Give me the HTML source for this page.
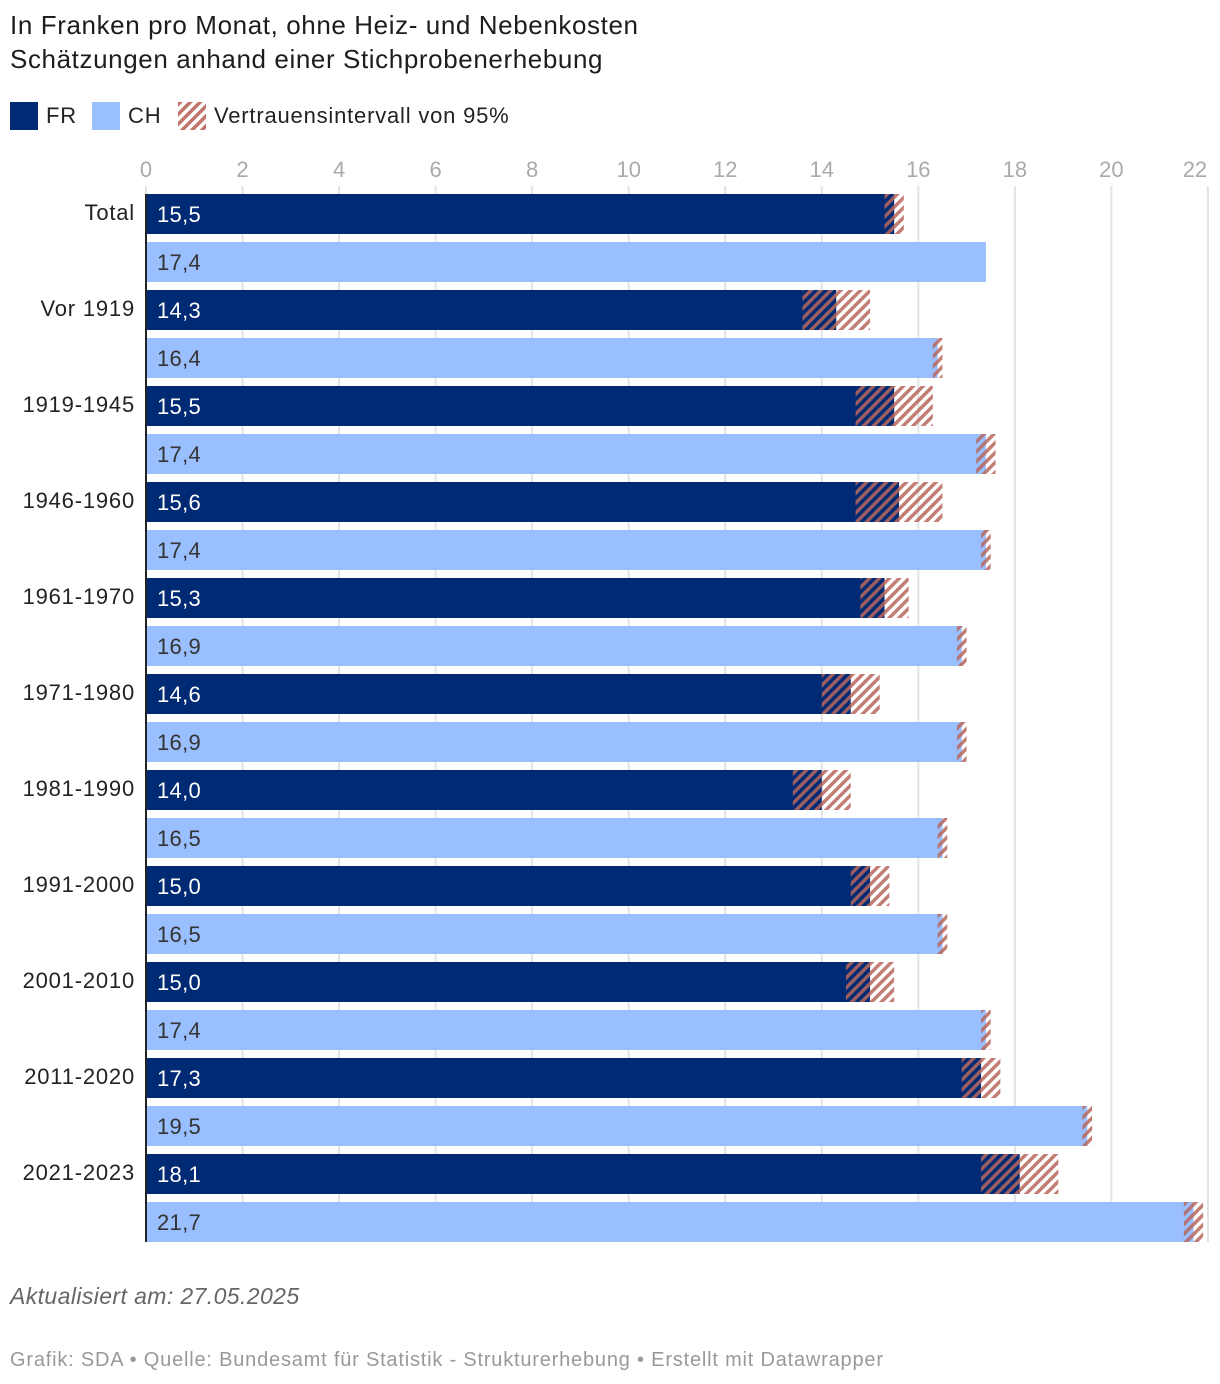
<!DOCTYPE html>
<html><head><meta charset="utf-8">
<style>
body{margin:0;background:#fff;font-family:"Liberation Sans",sans-serif;}
.wrap{position:relative;width:1220px;height:1384px;overflow:hidden;}
.t{position:absolute;left:10px;font-size:26px;color:#1d1d1d;white-space:nowrap;letter-spacing:0.6px}
.leg{position:absolute;top:102px;height:28px;display:flex;align-items:center;font-size:22px;letter-spacing:0.8px;color:#222}
.sw{width:28px;height:28px;margin-right:8px}
</style></head><body>
<div class="wrap">
<div class="t" style="top:10px">In Franken pro Monat, ohne Heiz- und Nebenkosten</div>
<div class="t" style="top:44px">Schätzungen anhand einer Stichprobenerhebung</div>
<div class="leg" style="left:10px"><div class="sw" style="background:#002a74"></div>FR</div>
<div class="leg" style="left:92px"><div class="sw" style="background:#99bfff"></div>CH</div>
<div class="leg" style="left:178px"><svg class="sw" width="28" height="28"><rect width="28" height="28" fill="url(#hatchL)"/></svg>Vertrauensintervall von 95%</div>
<svg id="c" width="1220" height="1384" style="position:absolute;left:0;top:0">
<defs>
<pattern id="hatchL" patternUnits="userSpaceOnUse" width="7" height="7" patternTransform="rotate(45)"><rect width="3.5" height="7" fill="#c0746a"/></pattern>
<pattern id="hatch" patternUnits="userSpaceOnUse" width="7" height="7" patternTransform="rotate(45)"><rect width="3.5" height="7" fill="#b8675d" fill-opacity="0.85"/></pattern>
</defs>
</svg>
<div class="t" style="top:1283px;font-style:italic;font-size:23px;letter-spacing:0.4px;color:#666">Aktualisiert am: 27.05.2025</div>
<div class="t" style="top:1349px;font-size:20px;letter-spacing:0.8px;color:#999">Grafik: SDA • Quelle: Bundesamt für Statistik - Strukturerhebung • Erstellt mit Datawrapper</div>
</div>
<script>
const categories=["Total","Vor 1919","1919-1945","1946-1960","1961-1970","1971-1980","1981-1990","1991-2000","2001-2010","2011-2020","2021-2023"];
const frValues=[15.5,14.3,15.5,15.6,15.3,14.6,14.0,15.0,15.0,17.3,18.1];
const frLow=[15.3,13.6,14.7,14.7,14.8,14.0,13.4,14.6,14.5,16.9,17.3];
const frHigh=[15.7,15.0,16.3,16.5,15.8,15.2,14.6,15.4,15.5,17.7,18.9];
const chValues=[17.4,16.4,17.4,17.4,16.9,16.9,16.5,16.5,17.4,19.5,21.7];
const chLow=[17.4,16.3,17.2,17.3,16.8,16.8,16.4,16.4,17.3,19.4,21.5];
const chHigh=[17.4,16.5,17.6,17.5,17.0,17.0,16.6,16.6,17.5,19.6,21.9];
const ticks=[0,2,4,6,8,10,12,14,16,18,20,22];
const X0=146,PX=48.27,TOP=194,ROW=96,BH=40;
const x=v=>X0+v*PX;
const svg=document.getElementById('c');
const NS='http://www.w3.org/2000/svg';
function mk(t,a){const e=document.createElementNS(NS,t);for(const k in a)e.setAttribute(k,a[k]);svg.appendChild(e);return e;}
ticks.forEach(t=>{
  const g=mk('line',{x1:x(t),x2:x(t),y1:186,y2:1242,stroke:'#e3e3e3','stroke-width':2});
  
  
  const l=mk('text',{x:t===22?x(t)-13:x(t),y:177,'text-anchor':'middle','font-size':22,fill:'#aaa','font-family':'Liberation Sans, sans-serif'});
  l.textContent=t;
  
  
});
const fmt=v=>v.toFixed(1).replace('.',',');
const F='font-family';
categories.forEach((c,i)=>{
  const y1=TOP+i*ROW,y2=y1+48;
  const lab=mk('text',{x:135,y:y1+26,'text-anchor':'end','font-size':22,'letter-spacing':0.8,fill:'#222',[F]:'Liberation Sans, sans-serif'});
  lab.textContent=c;
  
  
  const b1=mk('rect',{x:X0,y:y1,width:x(frValues[i])-X0,height:BH,fill:'#002a74'});
  
  
  const c1=mk('rect',{x:x(frLow[i]),y:y1,width:(frHigh[i]-frLow[i])*PX,height:BH,fill:'url(#hatch)'});
  
  
  const t1=mk('text',{x:157,y:y1+28,'font-size':22,'letter-spacing':0.3,fill:'#fff',[F]:'Liberation Sans, sans-serif'});
  t1.textContent=fmt(frValues[i]);
  
  
  const b2=mk('rect',{x:X0,y:y2,width:x(chValues[i])-X0,height:BH,fill:'#99bfff'});
  
  
  if(chHigh[i]>chLow[i]){
    const c2=mk('rect',{x:x(chLow[i]),y:y2,width:(chHigh[i]-chLow[i])*PX,height:BH,fill:'url(#hatch)'});
    
    
  }
  const t2=mk('text',{x:157,y:y2+28,'font-size':22,'letter-spacing':0.3,fill:'#333',[F]:'Liberation Sans, sans-serif'});
  t2.textContent=fmt(chValues[i]);
  
  
});
const ax=mk('line',{x1:X0,x2:X0,y1:194,y2:1242,stroke:'#222','stroke-width':2});


</script>
</body></html>
